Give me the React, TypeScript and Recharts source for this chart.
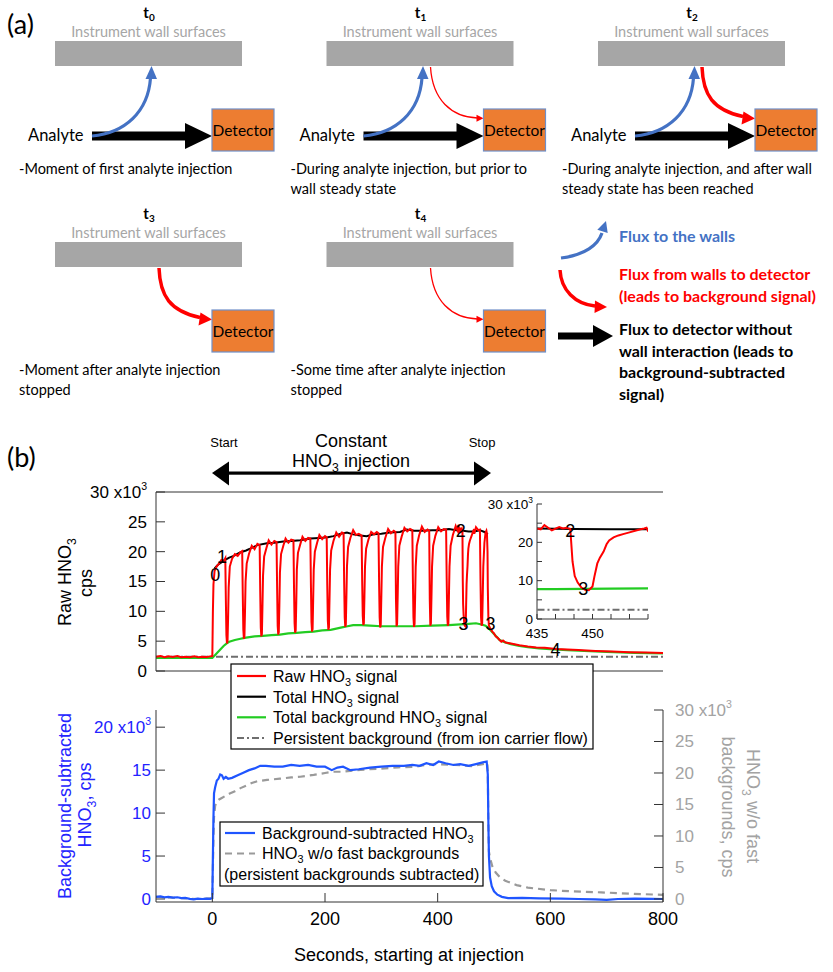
import React from "react"
import { Line, LineChart, ReferenceDot, XAxis, YAxis } from "recharts"

type Pt = [number, number]

// seconds since injection, kilo-counts per second
const rawSignal: Pt[] = [
  [-100, 2.4], [-92, 2.5], [-85, 2.3], [-78, 2.45], [-70, 2.35], [-62, 2.5], [-55, 2.3], [-48, 2.4], [-40, 2.3], [-32, 2.45], [-25, 2.3], [-18, 2.4], [-10, 2.35], [-4, 2.45], [0, 2.5],
  [1, 10], [2, 14.5], [4, 16.8], [8, 17.6], [12, 18.0], [16, 18.6], [20, 18.4], [23, 18.9],
  [24, 12], [25, 6], [26, 4.6], [27, 5], [28, 9], [29, 14], [31, 17.5], [35, 18.8], [40, 19.6], [45, 19.3], [50, 19.9], [53, 20.1],
  [54, 13], [55, 7], [56, 5.4], [57, 5.8], [58, 10], [59, 15], [61, 18], [65, 19.6], [70, 21], [75, 20.4], [80, 21.3], [84, 21.1],
  [85, 13.5], [86, 7.3], [87, 5.8], [88, 6.2], [89, 11], [90, 16], [92, 19.2], [96, 20.6], [100, 21.9], [105, 21.2], [110, 21.8], [114, 21.6],
  [115, 14], [116, 7.6], [117, 6.1], [118, 6.5], [119, 11], [120, 16.5], [122, 19.6], [126, 21], [130, 22.2], [135, 21.5], [140, 22], [144, 21.9],
  [145, 14], [146, 8], [147, 6.4], [148, 6.8], [149, 11.5], [150, 17], [152, 19.8], [156, 21.2], [160, 22.5], [165, 21.8], [170, 22.3], [174, 22.2],
  [175, 14.5], [176, 8.2], [177, 6.6], [178, 7], [179, 12], [180, 17], [182, 20], [186, 21.5], [190, 22.8], [195, 22.1], [200, 22.6], [203, 22.4],
  [204, 14.5], [205, 8.5], [206, 6.9], [207, 7.3], [208, 12], [209, 17], [211, 20.2], [215, 21.8], [220, 23.2], [225, 22.5], [230, 23.2], [233, 23.1],
  [234, 15], [235, 9], [236, 7.4], [237, 7.8], [238, 12.5], [239, 17.5], [241, 20.8], [245, 22.3], [250, 23.6], [255, 22.8], [260, 23], [265, 22.7],
  [266, 15], [267, 9.3], [268, 7.7], [269, 8], [270, 12.5], [271, 17.5], [273, 20.5], [277, 22], [282, 23.3], [287, 22.9], [292, 23.3], [295, 23.1],
  [296, 15], [297, 9], [298, 7.3], [299, 7.8], [300, 12.5], [301, 17.5], [303, 20.8], [307, 22.3], [312, 23.8], [317, 23.1], [322, 23.5], [325, 23.3],
  [326, 12], [327, 7.5], [328, 7.9], [329, 12.5], [330, 17.5], [332, 21], [336, 22.5], [341, 24], [346, 23.4], [351, 23.8], [355, 23.6],
  [356, 15.5], [357, 9], [358, 7.4], [359, 7.9], [360, 12.5], [361, 17.5], [363, 21], [367, 22.7], [372, 24.2], [377, 23.3], [382, 23.7], [385, 23.5],
  [386, 12], [387, 7.6], [388, 8], [389, 12.5], [390, 17.5], [392, 21], [396, 22.7], [401, 24.1], [406, 23.4], [411, 23.8], [415, 23.7],
  [416, 15.5], [417, 9.2], [418, 7.6], [419, 8], [420, 12.5], [421, 17.5], [423, 21], [427, 22.8], [432, 24.3],
  [435, 23.6], [436, 23.4], [437, 24.5], [438, 23.8], [439, 23.1], [440, 23.6], [441, 24.0], [442, 23.6], [443, 23.8], [444, 23.5],
  [444.6, 15], [445.2, 11.2], [446, 9.5], [447, 8.2], [448, 7.6], [449, 7.5], [450, 8.5], [450.5, 11], [451.3, 14.5], [452, 16], [453, 17.6],
  [453.8, 19.5], [454.5, 20.5], [455.7, 21.3], [457, 21.8], [458.5, 22.2], [460, 22.6], [461.5, 23], [463, 23.4], [464, 23.6], [464.6, 23.8], [465, 23.0],
  [468, 24.1], [472, 23.6], [475, 23.7],
  [476, 15.5], [477, 9], [478, 7.6], [479, 8], [480, 12.5], [481, 17.5], [483, 21.5], [485, 23.2], [486.5, 23.5], [487.5, 23.0],
  [488.5, 20], [489, 14], [490, 9], [491, 7.6], [493, 7.2], [497, 6.6], [500, 6.3], [503, 5.8], [506, 5.6], [510, 5.2], [513, 4.9], [516, 5.1],
  [520, 4.8], [530, 4.6], [545, 4.3], [560, 4.1], [575, 3.95], [590, 3.9], [610, 3.7], [630, 3.6], [650, 3.5], [680, 3.35], [710, 3.25], [740, 3.15], [770, 3.1], [800, 3.0],
]

const totalSignal: Pt[] = [
  [4, 17.2], [10, 17.8], [16, 18.2], [22, 18.6], [30, 19.0], [38, 19.3], [50, 19.9], [60, 20.2], [67, 20.5], [80, 21.1], [97, 21.4],
  [110, 21.5], [126, 21.7], [140, 21.8], [156, 21.9], [174, 22.2], [190, 22.3], [205, 22.4], [215, 22.6], [228, 23.0], [239, 23.2],
  [250, 22.9], [262, 22.7], [274, 22.6], [286, 22.9], [300, 23.0], [315, 23.2], [333, 23.3], [345, 23.7], [358, 23.5], [372, 23.5],
  [390, 23.6], [404, 23.6], [420, 23.8], [433, 23.6], [445, 23.5], [455, 23.4], [465, 23.4], [475, 23.6], [483, 23.3], [489, 22.9],
]

const totalBackground: Pt[] = [
  [-100, 2.2], [-50, 2.2], [0, 2.2], [5, 2.7], [10, 3.2], [15, 3.7], [20, 4.2], [25, 4.6], [30, 4.9], [40, 5.2], [50, 5.4], [60, 5.6],
  [75, 5.8], [90, 5.9], [105, 6.0], [120, 6.1], [135, 6.3], [150, 6.4], [165, 6.5], [180, 6.6], [195, 6.8], [210, 6.9], [220, 7.1],
  [230, 7.3], [240, 7.5], [250, 7.7], [265, 7.7], [280, 7.6], [300, 7.5], [330, 7.5], [360, 7.5], [390, 7.6], [420, 7.7], [440, 7.8],
  [455, 7.9], [468, 8.0], [478, 7.8], [485, 7.6], [490, 7.2], [495, 6.7], [500, 6.2], [505, 5.7], [510, 5.2], [520, 4.8], [530, 4.5],
  [545, 4.2], [560, 4.0], [580, 3.8], [600, 3.65], [630, 3.5], [660, 3.35], [700, 3.2], [750, 3.05], [800, 2.95],
]

const persistentBackground: Pt[] = [[-100, 2.4], [800, 2.4]]

const bgSubtracted: Pt[] = [
  [-100, 0.25], [-92, 0.3], [-85, 0.2], [-78, 0.25], [-70, 0.15], [-62, 0.2], [-55, 0.1], [-48, 0.12], [-40, 0.02], [-33, -0.05],
  [-26, 0.05], [-18, 0.0], [-10, 0.05], [-4, 0.02], [0, 0.1], [1, 5], [2, 9.5], [3, 12.3], [5, 13], [8, 13.8], [11, 14.0], [14, 14.5],
  [17, 14.4], [20, 14.0], [24, 14.2], [28, 14.0], [35, 14.1], [45, 14.4], [55, 14.7], [65, 15.0], [75, 15.2], [85, 15.5], [95, 15.5],
  [110, 15.4], [125, 15.4], [140, 15.6], [155, 15.5], [170, 15.6], [185, 15.4], [200, 15.4], [212, 15.0], [222, 15.3], [232, 15.4],
  [245, 15.0], [260, 15.1], [280, 15.3], [300, 15.4], [320, 15.5], [340, 15.5], [355, 15.6], [368, 15.5], [380, 15.8], [392, 15.6],
  [402, 16.0], [414, 15.8], [428, 15.6], [440, 15.7], [455, 15.5], [468, 15.7], [480, 15.9], [487, 16.0], [489, 14.5], [490, 9],
  [491, 5], [493, 2.5], [496, 1.5], [500, 0.9], [506, 0.5], [514, 0.25], [525, 0.1], [550, 0.12], [580, 0.08], [620, 0.05], [650, 0.0],
  [680, -0.05], [700, -0.1], [720, 0.0], [750, 0.05], [780, 0.02], [800, 0.0],
]

const noFastBackground: Pt[] = [
  [-100, 0.35], [-85, 0.3], [-70, 0.2], [-55, 0.15], [-40, 0.05], [-25, 0.0], [-10, 0.05], [0, 0.1], [1, 5], [2, 10], [3, 13], [5, 14.8],
  [8, 15.5], [12, 15.8], [16, 16.0], [22, 16.3], [30, 16.7], [40, 17.1], [50, 17.6], [60, 18.0], [70, 18.4], [80, 18.7], [97, 18.9],
  [120, 19.1], [140, 19.3], [156, 19.4], [180, 19.7], [200, 20.0], [215, 20.2], [230, 20.2], [250, 20.4], [280, 20.6], [300, 20.7],
  [330, 20.9], [360, 21.0], [380, 21.3], [400, 21.4], [430, 21.3], [460, 21.1], [480, 21.4], [488, 21.6], [489, 20], [490, 12],
  [491, 7.5], [493, 6.5], [497, 5.2], [503, 4.2], [510, 3.5], [520, 2.9], [540, 2.2], [560, 1.8], [600, 1.4], [640, 1.2], [690, 1.05],
  [740, 0.85], [800, 0.65],
]

const timeTicks = [0, 200, 400, 600, 800]
const rawTicks = [0, 5, 10, 15, 20, 25, 30]
const insetTimeTicks = [435, 440, 445, 450, 455, 460, 465]
const insetTimeLabels = [435, 450]
const insetRawLabels = [0, 10, 20, 30]
const leftTicks = [0, 5, 10, 15, 20]
const rightTicks = [0, 5, 10, 15, 20, 25, 30]

// numbered markers on the raw signal: [t, kcps, label]
const mainMarkers: [number, number, string][] = [
  [5, 16.1, "0"], [17, 19.1, "1"], [441, 23.6, "2"], [446, 8.0, "3"], [494, 8.0, "3"], [609, 3.65, "4"],
]
const insetMarkers: [number, number, string][] = [[444, 23.1, "2"], [447.5, 8.0, "3"]]

const W = 833
const H = 972
const SANS = '"Liberation Sans", Arial, sans-serif'
const CAL = 'Lato, "Open Sans", sans-serif'
const AXIS = "#333"
const RED = "#ff0000"
const GREEN = "#22cc22"
const DASHDOT = "#6e6e6e"
const BLUE = "#1f55ff"
const BLUE_TXT = "#2323ff"
const GRAY = "#9a9a9a"
const GRAY_TXT = "#a3a3a3"

const rows = (pts: Pt[]) => pts.map(([t, v]) => ({ t, v }))

function KiloTick(props: any) {
  const { x, y, payload, anchor, color, size, top, show } = props
  const v = payload.value
  if (show && !show.includes(v)) return null
  return (
    <text x={x} y={y} dy="0.35em" textAnchor={anchor} fill={color} fontSize={size} fontFamily={SANS}>
      {v === top ? `${v} x10` : String(v)}
      {v === top && (
        <tspan dy={-size * 0.45} fontSize={size * 0.62}>3</tspan>
      )}
    </text>
  )
}

function InsetTimeTick(props: any) {
  const { x, y, payload } = props
  if (!insetTimeLabels.includes(payload.value)) return null
  return (
    <text x={x} y={y} dy="0.71em" textAnchor="middle" fontSize={13.5} fontFamily={SANS} fill="#000">
      {payload.value}
    </text>
  )
}

function markerLabel(text: string, size: number) {
  return { value: text, position: "center" as const, fontSize: size, fill: "#000", fontFamily: SANS }
}

function RawChart() {
  return (
    <LineChart width={W} height={H} margin={{ top: 491, right: 170, bottom: 300, left: 0 }}>
      <XAxis xAxisId="top" orientation="top" type="number" dataKey="t" domain={[-100, 800]} ticks={timeTicks} interval={0}
        tick={false} tickSize={-9} height={1} stroke={AXIS} allowDataOverflow />
      <XAxis xAxisId="bot" orientation="bottom" type="number" dataKey="t" domain={[-100, 800]} tick={false}
        tickLine={false} height={1} stroke={AXIS} allowDataOverflow />
      <YAxis type="number" domain={[0, 30]} ticks={rawTicks} interval={0} width={156} tickSize={-9} tickMargin={18} stroke={AXIS}
        allowDataOverflow tick={<KiloTick anchor="end" color="#000" size={17} top={30} />} />
      <Line xAxisId="top" data={rows(persistentBackground)} dataKey="v" stroke={DASHDOT} strokeWidth={2}
        strokeDasharray="7 3 2 3" dot={false} isAnimationActive={false} />
      <Line xAxisId="top" data={rows(totalBackground)} dataKey="v" stroke={GREEN} strokeWidth={2.2} dot={false} isAnimationActive={false} />
      <Line xAxisId="top" data={rows(totalSignal)} dataKey="v" stroke="#000" strokeWidth={2} dot={false} isAnimationActive={false} />
      <Line xAxisId="top" data={rows(rawSignal)} dataKey="v" stroke={RED} strokeWidth={2} dot={false} isAnimationActive={false} />
      {mainMarkers.map(([t, v, s], i) => (
        <ReferenceDot key={i} xAxisId="top" x={t} y={v} r={0} fill="none" stroke="none" label={markerLabel(s, 18)} />
      ))}
    </LineChart>
  )
}

function InsetChart() {
  return (
    <LineChart width={W} height={H} margin={{ top: 504, right: 185, bottom: 323, left: 0 }}>
      <XAxis type="number" dataKey="t" domain={[435, 465]} ticks={insetTimeTicks} interval={0} height={30} tickSize={-5}
        tickMargin={14} stroke={AXIS} allowDataOverflow tick={<InsetTimeTick />} />
      <YAxis type="number" domain={[0, 30]} ticks={rawTicks} interval={0} width={537} tickSize={-5} tickMargin={9} stroke={AXIS}
        allowDataOverflow tick={<KiloTick anchor="end" color="#000" size={13.5} top={30} show={insetRawLabels} />} />
      <Line data={rows(persistentBackground)} dataKey="v" stroke={DASHDOT} strokeWidth={2} strokeDasharray="7 3 2 3"
        dot={false} isAnimationActive={false} />
      <Line data={rows(totalBackground)} dataKey="v" stroke={GREEN} strokeWidth={2.2} dot={false} isAnimationActive={false} />
      <Line data={rows(totalSignal)} dataKey="v" stroke="#000" strokeWidth={2} dot={false} isAnimationActive={false} />
      <Line data={rows(rawSignal)} dataKey="v" stroke={RED} strokeWidth={2} dot={false} isAnimationActive={false} />
      {insetMarkers.map(([t, v, s], i) => (
        <ReferenceDot key={i} x={t} y={v} r={0} fill="none" stroke="none" label={markerLabel(s, 18)} />
      ))}
    </LineChart>
  )
}

function SubtractedChart() {
  return (
    <LineChart width={W} height={H} margin={{ top: 710, right: 0, bottom: 0, left: 0 }}>
      <XAxis type="number" dataKey="t" domain={[-100, 800]} ticks={timeTicks} interval={0} height={70} tickSize={-9} tickMargin={19}
        stroke={AXIS} allowDataOverflow tick={{ fontSize: 18, fill: "#000", fontFamily: SANS }} />
      <YAxis yAxisId="left" type="number" domain={[-0.35, 22]} ticks={leftTicks} interval={0} width={156} tickSize={-9} tickMargin={14}
        stroke={AXIS} allowDataOverflow tick={<KiloTick anchor="end" color={BLUE_TXT} size={17} top={20} />} />
      <YAxis yAxisId="right" orientation="right" type="number" domain={[-0.48, 30]} ticks={rightTicks} interval={0} width={170}
        tickSize={-9} tickMargin={21} stroke={AXIS} allowDataOverflow
        tick={<KiloTick anchor="start" color={GRAY_TXT} size={17} top={30} />} />
      <Line yAxisId="right" data={rows(noFastBackground)} dataKey="v" stroke={GRAY} strokeWidth={2.2} strokeDasharray="7 5"
        dot={false} isAnimationActive={false} />
      <Line yAxisId="left" data={rows(bgSubtracted)} dataKey="v" stroke={BLUE} strokeWidth={2.2} dot={false} isAnimationActive={false} />
    </LineChart>
  )
}

// "HNO3" with a subscript 3, followed (optionally) by more text on the normal baseline
function Hno3({ size, after }: { size: number; after?: string }) {
  const shift = size * 0.28
  return (
    <>
      HNO<tspan dy={shift} fontSize={size * 0.68}>3</tspan>
      {after && <tspan dy={-shift}>{after}</tspan>}
    </>
  )
}

const panels = [
  { dx: 0, dy: 0, t: "0", analyte: true, red: "", caption: ["-Moment of first analyte injection"] },
  { dx: 271.5, dy: 0, t: "1", analyte: true, red: "thin", caption: ["-During analyte injection, but prior to", "wall steady state"] },
  { dx: 543, dy: 0, t: "2", analyte: true, red: "thick", caption: ["-During analyte injection, and after wall", "steady state has been reached"] },
  { dx: 0, dy: 201, t: "3", analyte: false, red: "thick", caption: ["-Moment after analyte injection", "stopped"] },
  { dx: 271.5, dy: 201, t: "4", analyte: false, red: "thin", caption: ["-Some time after analyte injection", "stopped"] },
]

function Panel({ p }: { p: (typeof panels)[number] }) {
  return (
    <g transform={`translate(${p.dx},${p.dy})`} fontFamily={CAL}>
      <text x={149} y={18} textAnchor="middle" fontWeight="bold" fontSize={15}>
        t<tspan dy={2.5} fontSize={10}>{p.t}</tspan>
      </text>
      <text x={148.5} y={37} textAnchor="middle" fill="#a6a6a6" fontSize={14.5}>Instrument wall surfaces</text>
      <rect x={55} y={41} width={187} height={25} fill="#a6a6a6" />
      {p.analyte && (
        <>
          <text x={28} y={141} fontSize={16.5}>Analyte</text>
          <rect x={92} y={131.5} width={94} height={9} fill="#000" />
          <polygon points="185,123 212,136 185,149" fill="#000" />
          <path d="M92 136 C125 133 148 112 150.5 78" stroke="#4472c4" strokeWidth={3.2} fill="none" />
          <polygon points="151.5,66 145.5,79 157,79" fill="#4472c4" />
        </>
      )}
      {p.red === "thin" && (
        <>
          <path d="M159 67 C161 100 180 117 206 118" stroke={RED} strokeWidth={1.3} fill="none" />
          <polygon points="212,118.3 205,114.8 205,121.8" fill={RED} />
        </>
      )}
      {p.red === "thick" && (
        <>
          <path d="M159 67 C160 95 170 110 200 116.5" stroke={RED} strokeWidth={3.5} fill="none" />
          <polygon points="212,118.5 200.5,111.5 198.5,124.5" fill={RED} />
        </>
      )}
      <rect x={212} y={109} width={62} height={42} fill="#ed7d31" stroke="#6f8fc8" strokeWidth={1.2} />
      <text x={243} y={135.5} textAnchor="middle" fontSize={15.5}>Detector</text>
      {p.caption.map((c, i) => (
        <text key={i} x={19} y={174 + i * 20} fontSize={14.5}>{c}</text>
      ))}
    </g>
  )
}

function Schematic() {
  return (
    <g>
      <text x={7} y={34} fontFamily={CAL} fontSize={27}>(a)</text>
      {panels.map((p, i) => <Panel key={i} p={p} />)}
      <path d="M561 258 C585 255 598 245 602 233" stroke="#4472c4" strokeWidth={3.2} fill="none" />
      <polygon points="606,221 597.3,229.7 607.7,233.1" fill="#4472c4" />
      <path d="M560 270 C561 290 575 304 595 306" stroke={RED} strokeWidth={3.5} fill="none" />
      <polygon points="607,307 595,300.5 594.5,313" fill={RED} />
      <rect x={558} y={332.5} width={36} height={7} fill="#000" />
      <polygon points="593,325 613,336 593,347" fill="#000" />
      <g fontFamily={CAL} fontWeight="bold" fontSize={16}>
        <text x={619} y={241.5} fill="#4472c4">Flux to the walls</text>
        <text x={619} y={280} fill={RED}>Flux from walls to detector</text>
        <text x={619} y={301.5} fill={RED}>(leads to background signal)</text>
        <text x={619} y={335} fill="#000">Flux to detector without</text>
        <text x={619} y={356.5} fill="#000">wall interaction (leads to</text>
        <text x={619} y={378} fill="#000">background-subtracted</text>
        <text x={619} y={399.5} fill="#000">signal)</text>
      </g>
    </g>
  )
}

function Annotations() {
  return (
    <g fontFamily={SANS}>
      <text x={7} y={467} fontFamily={CAL} fontSize={27}>(b)</text>
      <text x={224} y={447} textAnchor="middle" fontSize={13}>Start</text>
      <text x={482} y={447} textAnchor="middle" fontSize={13}>Stop</text>
      <text x={351} y={447} textAnchor="middle" fontSize={18}>Constant</text>
      <text x={351} y={467} textAnchor="middle" fontSize={18}><Hno3 size={18} after=" injection" /></text>
      <rect x={226} y={471.5} width={250} height={3.2} fill="#000" />
      <polygon points="212,473 229,461.5 229,485.5" fill="#000" />
      <polygon points="491,473 474,461.5 474,485.5" fill="#000" />

      <text transform="rotate(-90 65 582)" x={65} y={582} dy="0.35em" textAnchor="middle" fontSize={18}>
        Raw <Hno3 size={18} />
      </text>
      <text transform="rotate(-90 86 583)" x={86} y={583} dy="0.35em" textAnchor="middle" fontSize={18}>cps</text>

      <text transform="rotate(-90 65 806)" x={65} y={806} dy="0.35em" textAnchor="middle" fontSize={18} fill={BLUE_TXT}>
        Background-subtracted
      </text>
      <text transform="rotate(-90 85 805)" x={85} y={805} dy="0.35em" textAnchor="middle" fontSize={18} fill={BLUE_TXT}>
        <Hno3 size={18} after=", cps" />
      </text>
      <text transform="rotate(90 753 806)" x={753} y={806} dy="0.35em" textAnchor="middle" fontSize={18} fill={GRAY_TXT}>
        <Hno3 size={18} after=" w/o fast" />
      </text>
      <text transform="rotate(90 728 807)" x={728} y={807} dy="0.35em" textAnchor="middle" fontSize={18} fill={GRAY_TXT}>
        backgrounds, cps
      </text>
      <text x={409} y={961} textAnchor="middle" fontSize={18}>Seconds, starting at injection</text>

      <g fontSize={16}>
        <rect x={231} y={664} width={362} height={85} fill="#fff" stroke="#000" strokeWidth={1.2} />
        <line x1={237} x2={266} y1={676} y2={676} stroke={RED} strokeWidth={2.2} />
        <line x1={237} x2={266} y1={696.7} y2={696.7} stroke="#000" strokeWidth={2.2} />
        <line x1={237} x2={266} y1={717.3} y2={717.3} stroke={GREEN} strokeWidth={2.2} />
        <line x1={237} x2={266} y1={738} y2={738} stroke={DASHDOT} strokeWidth={2} strokeDasharray="7 3 2 3" />
        <text x={273} y={682}>Raw <Hno3 size={16} after=" signal" /></text>
        <text x={273} y={702.5}>Total <Hno3 size={16} after=" signal" /></text>
        <text x={273} y={723}>Total background <Hno3 size={16} after=" signal" /></text>
        <text x={273} y={743.5}>Persistent background (from ion carrier flow)</text>

        <rect x={220} y={822} width={263} height={64} fill="#fff" stroke="#000" strokeWidth={1.2} />
        <line x1={225} x2={255} y1={833} y2={833} stroke={BLUE} strokeWidth={2.2} />
        <line x1={225} x2={255} y1={853.5} y2={853.5} stroke={GRAY} strokeWidth={2.2} strokeDasharray="7 5" />
        <text x={262} y={838.5}>Background-subtracted <Hno3 size={16} /></text>
        <text x={262} y={859}><Hno3 size={16} after=" w/o fast backgrounds" /></text>
        <text x={224} y={879.5}>(persistent backgrounds subtracted)</text>
      </g>
    </g>
  )
}

export default function App() {
  return (
    <div style={{ position: "absolute", left: 0, top: 0, width: W, height: H, background: "#fff", overflow: "hidden" }}>
      <div style={{ position: "absolute", left: 0, top: 0 }}>
        <RawChart />
      </div>
      <div style={{ position: "absolute", left: 0, top: 0 }}>
        <InsetChart />
      </div>
      <div style={{ position: "absolute", left: 0, top: 0 }}>
        <SubtractedChart />
      </div>
      <svg width={W} height={H} style={{ position: "absolute", left: 0, top: 0, pointerEvents: "none" }}>
        <Schematic />
        <Annotations />
      </svg>
    </div>
  )
}
